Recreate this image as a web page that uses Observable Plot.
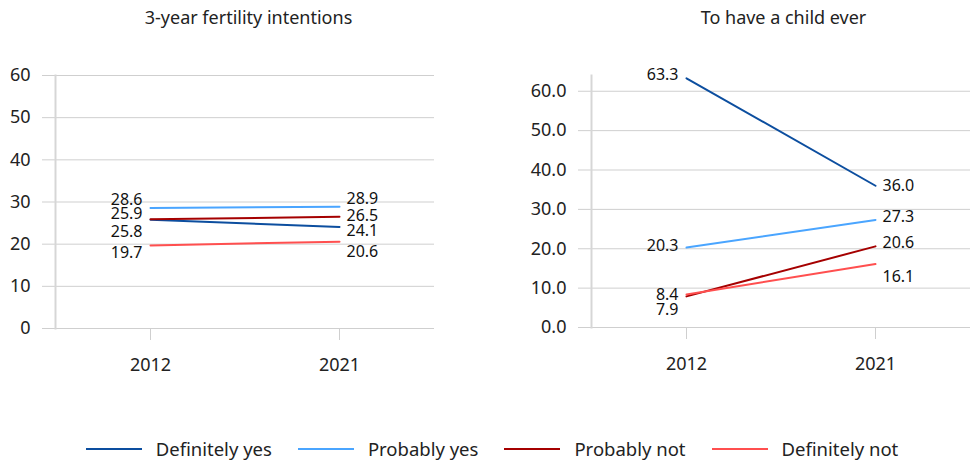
<!DOCTYPE html>
<html>
<head>
<meta charset="utf-8">
<script src="https://cdn.jsdelivr.net/npm/d3@7"></script>
<script src="https://cdn.jsdelivr.net/npm/@observablehq/plot@0.6"></script>
<style>
  body { margin: 0; background: #fff; font-family: "Noto Sans", sans-serif; color: #222; }
  #wrap { position: relative; width: 970px; height: 462px; overflow: hidden; }
  .title { position: absolute; top: 5px; width: 485px; text-align: center; font-size: 18px; color: #222; }
  .panel { position: absolute; top: 0; }
  #legend { position: absolute; top: 436px; left: 0; width: 970px; display: flex; justify-content: center; align-items: center; font-size: 18.5px; color: #222; padding-left: 14px; box-sizing: border-box; }
  .item { display: flex; align-items: center; margin: 0 13px; }
  .swatch { width: 56px; height: 2px; margin-right: 14px; }
</style>
</head>
<body>
<div id="wrap">
  <div class="title" style="left:6px">3-year fertility intentions</div>
  <div class="title" style="left:541px">To have a child ever</div>
  <div class="panel" id="left" style="left:0"></div>
  <div class="panel" id="right" style="left:485px"></div>
  <div id="legend"></div>
</div>
<script>
// ---- data ----
const years = ["2012", "2021"];
const seriesNames = ["Definitely yes", "Probably yes", "Probably not", "Definitely not"];
const seriesColors = ["#0c4e9f", "#4aa5ff", "#a50000", "#ff4f4f"];
const intentions2012 = [25.8, 28.6, 25.9, 19.7];
const intentions2021 = [24.1, 28.9, 26.5, 20.6];
const ever2012 = [63.3, 20.3, 7.9, 8.4];
const ever2021 = [36.0, 27.3, 20.6, 16.1];
const leftTicks = [0, 10, 20, 30, 40, 50, 60];
const rightTicks = [0, 10, 20, 30, 40, 50, 60];

// ---- label nudges (pixels), to avoid overlaps like the original ----
const leftNudge = { "2012": [12, -8, -5, 7], "2021": [4, -8, -1, 10] };
const rightNudge = { "2012": [-3, -2, 13, 0], "2021": [0, -3, -4, 13] };

function makeRows(a, b) {
  return seriesNames.flatMap((s, i) => [
    { series: s, year: years[0], value: a[i], i },
    { series: s, year: years[1], value: b[i], i }
  ]);
}

function panel({ v1, v2, domain, ticks, tickFmt, nudge, marginLeft, marginRight, marginBottom }) {
  const rows = makeRows(v1, v2);
  const gridColor = "#cfcfcf";
  return Plot.plot({
    width: 485,
    height: 400,
    marginLeft,
    marginRight,
    marginTop: 75,
    marginBottom,
    style: { fontFamily: "Noto Sans, sans-serif", fontSize: "18px", color: "#222", background: "transparent", overflow: "visible" },
    x: { type: "point", domain: years, padding: 0.5, label: null },
    y: { domain, label: null },
    color: { domain: seriesNames, range: seriesColors },
    marks: [
      Plot.ruleY(ticks, { stroke: gridColor, insetLeft: -13 }),
      Plot.frame({ anchor: "left", stroke: "#d6d6d6", strokeWidth: 2 }),
      Plot.axisY({ ticks, tickSize: 0, tickPadding: 25, tickFormat: tickFmt, fontSize: 18, fill: "#222", label: null }),
      Plot.axisX({ tickSize: 12, tickPadding: 18, stroke: gridColor, fill: "#222", fontSize: 18, label: null }),
      Plot.line(rows, { x: "year", y: "value", z: "series", stroke: "series", strokeWidth: 2 }),
      ...rows.map(r => Plot.text([r], {
        x: "year", y: "value",
        text: d => d.value.toFixed(1),
        textAnchor: r.year === years[0] ? "end" : "start",
        dx: r.year === years[0] ? -8 : 7,
        dy: nudge[r.year][r.i],
        fontSize: 16, fill: "#111"
      }))
    ]
  });
}

document.getElementById("left").append(panel({
  v1: intentions2012, v2: intentions2021, domain: [0, 60], ticks: leftTicks,
  tickFmt: d => String(d), nudge: leftNudge, marginLeft: 55, marginRight: 51, marginBottom: 72
}));
document.getElementById("right").append(panel({
  v1: ever2012, v2: ever2021, domain: [0, 64], ticks: rightTicks,
  tickFmt: d => d.toFixed(1), nudge: rightNudge, marginLeft: 106, marginRight: 0, marginBottom: 73
}));

const legend = document.getElementById("legend");
seriesNames.forEach((s, i) => {
  const item = document.createElement("div");
  item.className = "item";
  const sw = document.createElement("span");
  sw.className = "swatch";
  sw.style.background = seriesColors[i];
  const t = document.createElement("span");
  t.textContent = s;
  item.append(sw, t);
  legend.append(item);
});
</script>
</body>
</html>
